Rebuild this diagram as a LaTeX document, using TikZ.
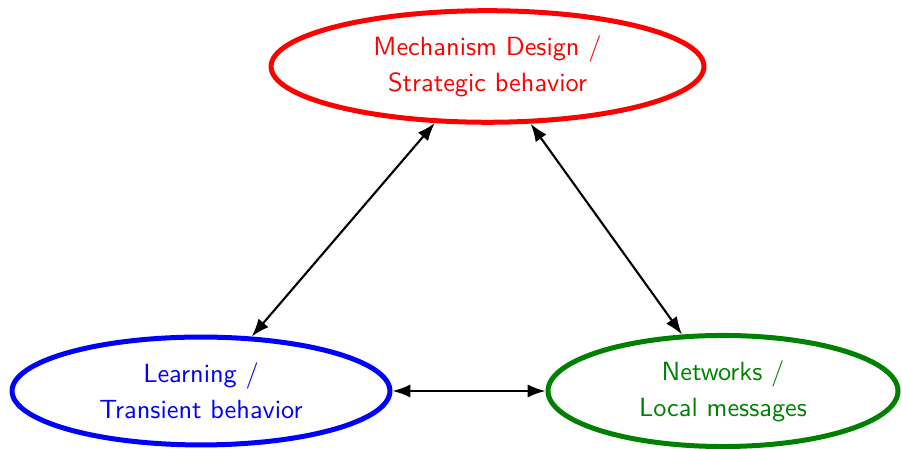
\documentclass[tikz,border=0pt]{standalone}
\usetikzlibrary{shapes.geometric,arrows.meta}
\definecolor{topicgreen}{RGB}{0,128,0}
\begin{document}
\begin{tikzpicture}[x=0.38pt,y=0.38pt,
  topic/.style={ellipse, draw, line width=1.9pt, inner sep=0pt, align=center,
    font=\sffamily\fontsize{10}{13.7}\selectfont},
  link/.style={{Latex[length=6.8pt,width=5pt]}-{Latex[length=6.8pt,width=5pt]}, line width=0.8pt, black}]
  \useasboundingbox (0,0) rectangle (902,449);
  \node[topic, draw=red, text=red, minimum width=164.5pt, minimum height=42.4pt]
    (mech) at (487.5,382.5) {Mechanism Design /\\Strategic behavior};
  \node[topic, draw=blue, text=blue, minimum width=143.6pt, minimum height=41pt]
    (learn) at (201,58) {Learning /\\Transient behavior};
  \node[topic, draw=topicgreen, text=topicgreen, minimum width=133pt, minimum height=42.2pt]
    (net) at (723,58) {Networks /\\Local messages};
  \draw[link] (mech.227.5) -- (learn.47.7);
  \draw[link] (mech.307) -- (net.126);
  \draw[link] (learn.east) -- (net.west);
\end{tikzpicture}
\end{document}
